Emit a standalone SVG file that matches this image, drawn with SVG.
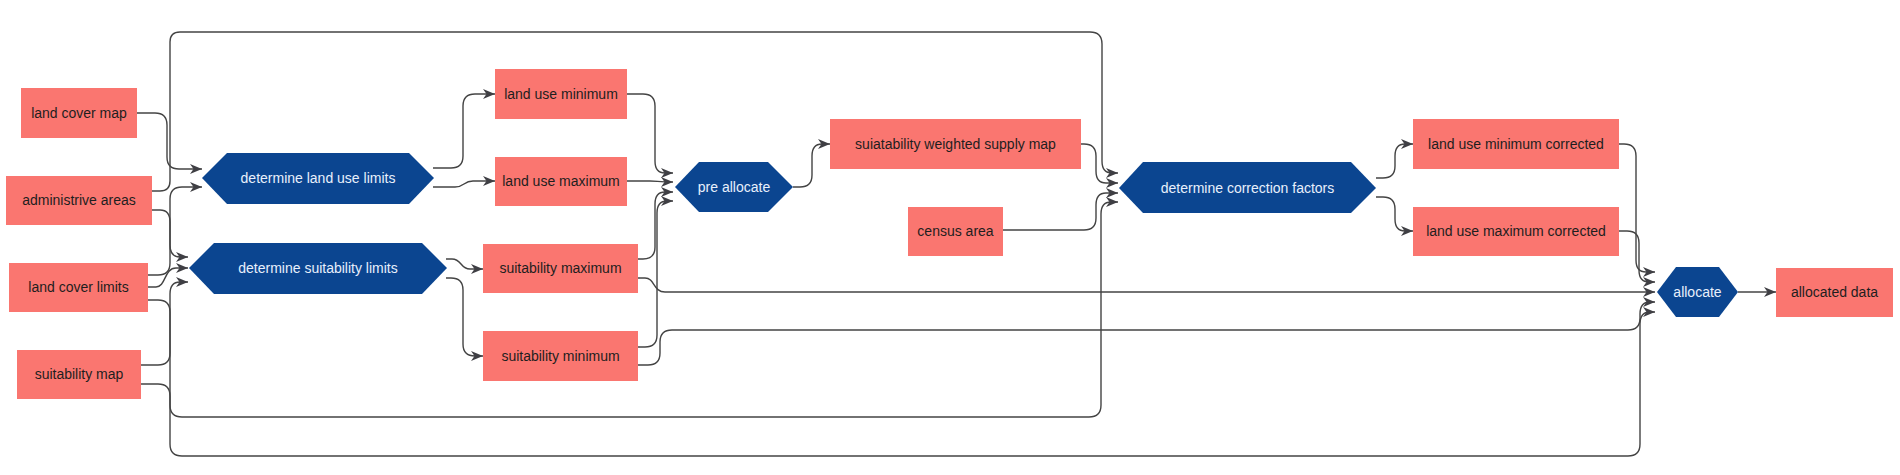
<svg xmlns="http://www.w3.org/2000/svg" width="1900" height="475" viewBox="0 0 1900 475">
<style>
.box{fill:#fa7670}
.hex{fill:#0b4590}
.bt{font-family:"Liberation Sans",Arial,sans-serif;font-size:14px;fill:#1e1e1e;text-anchor:middle}
.ht{font-family:"Liberation Sans",Arial,sans-serif;font-size:14px;fill:#e8f0fc;text-anchor:middle}
.e{fill:none;stroke:#444;stroke-width:1.4;marker-end:url(#arr)}
</style>
<defs>
<marker id="arr" markerUnits="userSpaceOnUse" markerWidth="13" markerHeight="11" refX="12" refY="5" orient="auto">
<path d="M0,0 L12,5 L0,10 L3.5,5 z" fill="#3f3f44"/>
</marker>
</defs>
<rect width="1900" height="475" fill="#fff"/>
<g id="connectors">
<path class="e" d="M137 113 H155 Q167 113 167 125 V157 Q167 169 179 169 H202"/>
<path class="e" d="M152 191 H160 Q170 191 170 181 V42 Q170 32 180 32 H1090 Q1102 32 1102 44 V161 Q1102 173 1112 173 H1118"/>
<path class="e" d="M148 275 H158 Q170 275 170 263 V199 Q170 187 182 187 H202"/>
<path class="e" d="M152 210 H160 Q170 210 170 222 V245 Q170 257 180 257 H188"/>
<path class="e" d="M148 287 H156 C166 287 164 268 176 268 H188"/>
<path class="e" d="M141 365 H158 Q170 365 170 353 V294 Q170 282 180 282 H188"/>
<path class="e" d="M148 300 H158 Q170 300 170 312 V405 Q170 417 182 417 H1089 Q1101 417 1101 405 V214 Q1101 202 1111 202 H1118"/>
<path class="e" d="M141 384 H158 Q170 384 170 396 V444 Q170 456 182 456 H1628 Q1640 456 1640 444 V324 Q1640 312 1650 312 H1655"/>
<path class="e" d="M433 168 H451 Q463 168 463 156 V106 Q463 94 475 94 H495"/>
<path class="e" d="M433 187 H455 C465 187 463 181 473 181 H495"/>
<path class="e" d="M446 259 H452 C462 259 460 269 470 269 H483"/>
<path class="e" d="M446 278 H451 Q463 278 463 290 V344 Q463 356 475 356 H483"/>
<path class="e" d="M627 94 H643 Q655 94 655 106 V161 Q655 173 665 173 H673"/>
<path class="e" d="M627 181 H650 C658 181 658 182 673 182"/>
<path class="e" d="M638 259 H643 Q655 259 655 247 V204 Q655 192 665 192 H673"/>
<path class="e" d="M638 347 H645 Q657 347 657 335 V213 Q657 201 667 201 H673"/>
<path class="e" d="M638 278 H645 C655 278 653 292 665 292 H1655"/>
<path class="e" d="M638 365 H648 Q660 365 660 353 V342 Q660 330 672 330 H1628 Q1640 330 1640 318 V314 Q1640 302 1650 302 H1655"/>
<path class="e" d="M793 187 H800 Q812 187 812 175 V156 Q812 144 822 144 H830"/>
<path class="e" d="M1081 144 H1084 Q1096 144 1096 156 V171 Q1096 183 1106 183 H1118"/>
<path class="e" d="M1003 230 H1084 Q1096 230 1096 218 V205 Q1096 193 1106 193 H1118"/>
<path class="e" d="M1376 178 H1383 Q1395 178 1395 166 V156 Q1395 144 1405 144 H1413"/>
<path class="e" d="M1376 197 H1383 Q1395 197 1395 209 V219 Q1395 231 1405 231 H1413"/>
<path class="e" d="M1619 144 H1624 Q1636 144 1636 156 V260 Q1636 272 1646 272 H1655"/>
<path class="e" d="M1619 231 H1627 Q1639 231 1639 243 V270 Q1639 282 1649 282 H1655"/>
<path class="e" d="M1738 292 H1776"/>
</g>
<g id="land-cover-map"><rect class="box" x="21" y="88" width="116" height="50"/><text class="bt" x="79" y="113" dy="0.35em">land cover map</text></g>
<g id="administrive-areas"><rect class="box" x="6" y="176" width="146" height="49"/><text class="bt" x="79" y="200.5" dy="0.35em">administrive areas</text></g>
<g id="land-cover-limits"><rect class="box" x="9" y="263" width="139" height="49"/><text class="bt" x="78.5" y="287.5" dy="0.35em">land cover limits</text></g>
<g id="suitability-map"><rect class="box" x="17" y="350" width="124" height="49"/><text class="bt" x="79" y="374.5" dy="0.35em">suitability map</text></g>
<g id="determine-land-use-limits"><polygon class="hex" points="202,178 227,153 409,153 434,178 409,204 227,204"/><text class="ht" x="318" y="178" dy="0.35em">determine land use limits</text></g>
<g id="determine-suitability-limits"><polygon class="hex" points="189,268 214,243 422,243 447,268 422,294 214,294"/><text class="ht" x="318" y="268" dy="0.35em">determine suitability limits</text></g>
<g id="land-use-minimum"><rect class="box" x="495" y="69" width="132" height="50"/><text class="bt" x="561" y="94" dy="0.35em">land use minimum</text></g>
<g id="land-use-maximum"><rect class="box" x="495" y="157" width="132" height="49"/><text class="bt" x="561" y="181.5" dy="0.35em">land use maximum</text></g>
<g id="suitability-maximum"><rect class="box" x="483" y="244" width="155" height="49"/><text class="bt" x="560.5" y="268.5" dy="0.35em">suitability maximum</text></g>
<g id="suitability-minimum"><rect class="box" x="483" y="331" width="155" height="50"/><text class="bt" x="560.5" y="356" dy="0.35em">suitability minimum</text></g>
<g id="pre-allocate"><polygon class="hex" points="675,187 699,162 768,162 793,187 768,212 699,212"/><text class="ht" x="734" y="187" dy="0.35em">pre allocate</text></g>
<g id="suiatability-weighted-supply-map"><rect class="box" x="830" y="119" width="251" height="50"/><text class="bt" x="955.5" y="144" dy="0.35em">suiatability weighted supply map</text></g>
<g id="census-area"><rect class="box" x="908" y="207" width="95" height="49"/><text class="bt" x="955.5" y="231.5" dy="0.35em">census area</text></g>
<g id="determine-correction-factors"><polygon class="hex" points="1119,188 1143,162 1351,162 1376,188 1351,213 1143,213"/><text class="ht" x="1247.5" y="188" dy="0.35em">determine correction factors</text></g>
<g id="land-use-minimum-corrected"><rect class="box" x="1413" y="119" width="206" height="50"/><text class="bt" x="1516" y="144" dy="0.35em">land use minimum corrected</text></g>
<g id="land-use-maximum-corrected"><rect class="box" x="1413" y="207" width="206" height="49"/><text class="bt" x="1516" y="231.5" dy="0.35em">land use maximum corrected</text></g>
<g id="allocate"><polygon class="hex" points="1657,292 1676,267 1719,267 1738,292 1719,317 1676,317"/><text class="ht" x="1697.5" y="292" dy="0.35em">allocate</text></g>
<g id="allocated-data"><rect class="box" x="1776" y="268" width="117" height="49"/><text class="bt" x="1834.5" y="292.5" dy="0.35em">allocated data</text></g>
</svg>
